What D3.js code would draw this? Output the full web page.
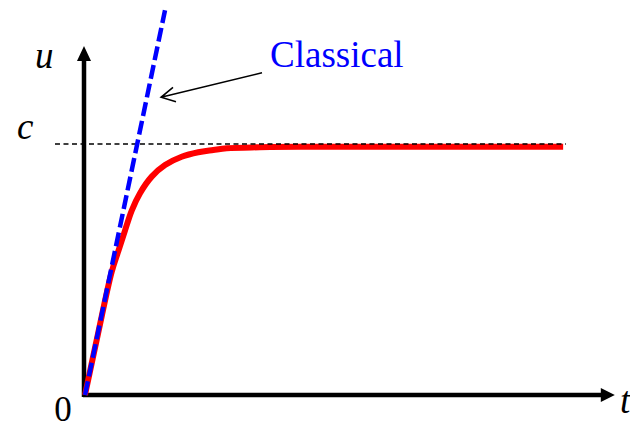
<!DOCTYPE html>
<html>
<head>
<meta charset="utf-8">
<script src="https://cdn.jsdelivr.net/npm/d3@7"></script>
<style>
  html, body { margin: 0; padding: 0; background: #fff; }
  svg { display: block; }
</style>
</head>
<body>
<div id="chart"></div>
<script>
// relativistic speed curve u(t) (c = 1)
var relT = [0, 0.25, 0.511, 0.638, 0.766, 0.895, 1.054, 1.278, 1.533, 1.852, 2.17, 2.458, 2.715, 3.35, 4.12, 9.16];
var relU = [0, 0.245, 0.49, 0.573, 0.655, 0.735, 0.804, 0.870, 0.916, 0.949, 0.967, 0.976, 0.983, 0.987, 0.989, 0.989];
// classical straight line u = a t
var classT = [0, 1.533];
var classU = [0, 1.533];
// limit line u = c
var limitT = [-0.575, 9.21];
var limitU = [1.0, 1.0];
var axisEnd = { t: 10.15, u: 1.39 };

(function () {
  var W = 630, H = 429;
  var serif = "'Liberation Serif', 'Times New Roman', serif";
  var svg = d3.select("#chart").append("svg").attr("width", W).attr("height", H);

  var x = d3.scaleLinear().domain([0, 10]).range([85, 607]);
  var y = d3.scaleLinear().domain([0, 1]).range([395, 144]);

  function line(curve) {
    return d3.line().x(function (d) { return x(d[0]); }).y(function (d) { return y(d[1]); }).curve(curve || d3.curveLinear);
  }

  // axes with filled arrow heads
  var x0 = x(0), y0 = y(0), xe = x(axisEnd.t), ye = y(axisEnd.u);
  svg.append("line").attr("x1", x0 - 2).attr("x2", xe - 10).attr("y1", y0).attr("y2", y0)
    .attr("stroke", "#000").attr("stroke-width", 4.5);
  svg.append("path").attr("d", "M" + xe + "," + y0 + "L" + (xe - 14) + "," + (y0 - 7) + "L" + (xe - 14) + "," + (y0 + 7) + "Z")
    .attr("fill", "#000");
  svg.append("line").attr("x1", x0 - 1).attr("x2", x0 - 1).attr("y1", y0 + 2).attr("y2", ye + 10)
    .attr("stroke", "#000").attr("stroke-width", 4.5);
  svg.append("path").attr("d", "M" + (x0 - 1) + "," + ye + "L" + (x0 - 8) + "," + (ye + 15) + "L" + (x0 + 6) + "," + (ye + 15) + "Z")
    .attr("fill", "#000");

  // red relativistic curve
  svg.append("path").datum(d3.zip(relT, relU))
    .attr("d", line(d3.curveCatmullRom.alpha(0.5)))
    .attr("fill", "none").attr("stroke", "#ff0000").attr("stroke-width", 6);

  // dashed limit c
  svg.append("path").datum(d3.zip(limitT, limitU)).attr("d", line())
    .attr("fill", "none").attr("stroke", "#000").attr("stroke-width", 1.3).attr("stroke-dasharray", "5 3.5");

  // blue classical line
  svg.append("path").datum(d3.zip(classT, classU)).attr("d", line())
    .attr("fill", "none").attr("stroke", "#0000ff").attr("stroke-width", 4.5).attr("stroke-dasharray", "14 5");

  // labels
  function label(tx, ty, s, style, anchor, color, size) {
    svg.append("text").attr("x", tx).attr("y", ty).attr("text-anchor", anchor || "start")
      .attr("font-family", serif).attr("font-size", size || 37).attr("font-style", style || "normal")
      .attr("fill", color || "#000").text(s);
  }
  label(35, 68, "u", "italic");
  label(17, 139, "c", "italic");
  label(63, 421, "0", "normal", "middle", "#000", 35);
  label(620, 413, "t", "italic");
  label(270, 67, "Classical", "normal", "start", "#0000ff");

  // annotation arrow pointing at classical line
  svg.append("path").attr("d", "M262,72.7L161,97.3M173,87.3L161,97.3L176,101.7")
    .attr("fill", "none").attr("stroke", "#000").attr("stroke-width", 1.5);
})();
</script>
</body>
</html>
